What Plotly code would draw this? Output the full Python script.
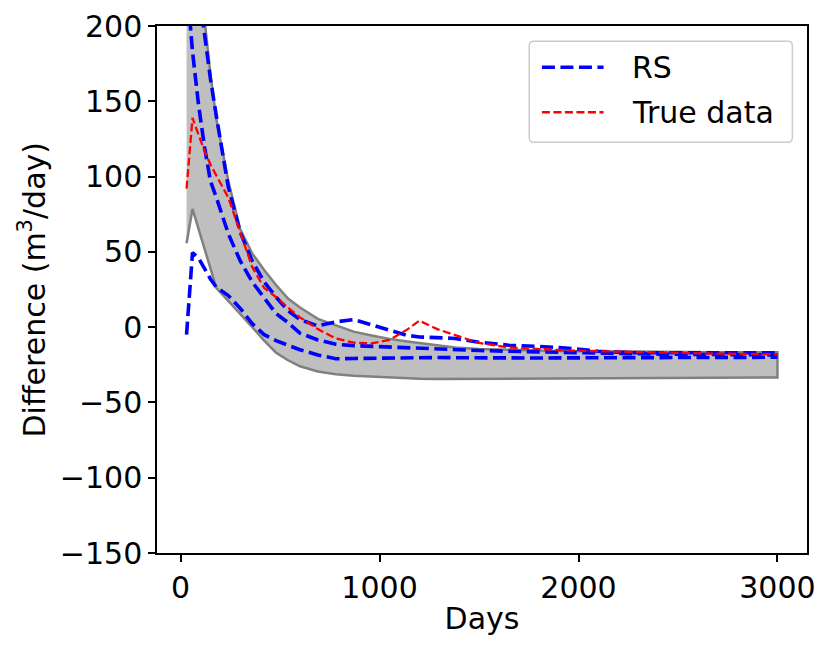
import plotly.graph_objects as go

# time axis (days) shared by all series
days = [30, 60, 90, 120, 150, 180, 240, 300, 360, 420, 480, 540, 600, 690, 780,
        870, 960, 1050, 1140, 1200, 1290, 1380, 1500, 1650, 1800, 1950, 2100,
        2250, 2400, 2550, 2700, 2850, 3000]

# envelope of the ensemble (grey band)
band_upper = [360, 300, 250, 205, 168, 138, 97, 65, 49, 38, 28, 19, 13, 5.5, 1,
              -3, -5.5, -7.8, -9.5, -10.6, -12, -13.5, -14.5, -15, -15.5, -16, -16,
              -16.3, -16.5, -16.5, -16.6, -16.6, -16.6]
band_lower = [55.7, 78.5, 65, 52, 39, 26, 17.5, 9, 0, -9, -17, -22, -26, -29.5, -31.3,
              -32.3, -33, -33.5, -34, -34.3, -34.5, -34.5, -34.5, -34.5, -34.5, -34.3, -34.1,
              -34, -33.9, -33.8, -33.6, -33.5, -33.4]

# RS realisations
rs_high = [330, 260, 225, 195, 165, 140, 93, 63, 44, 30, 20, 11, 5, 0.8, 3.5,
           5, 1.5, -2.5, -5.5, -6.5, -7.3, -7.5, -10, -12, -12.8, -14, -16,
           -17, -17, -17, -17, -17, -17]
rs_mid = [230, 183, 148, 120, 97, 86, 62, 44, 30, 19, 9, 3, -4, -8.5, -11.3,
          -12.3, -12.8, -13.3, -13.8, -14.2, -14.6, -15, -15.5, -16, -16.5, -17, -17.3,
          -17.6, -17.9, -18.1, -18.3, -18.4, -18.5]
rs_low = [-5, 49.5, 46, 39, 32, 26.5, 21, 12.5, 2.3, -5, -9, -12, -15, -18.5, -21,
          -20.8, -20.6, -20.5, -20.3, -20, -20.2, -20.3, -20.5, -20.5, -20.5, -20.4, -20.3,
          -20.3, -20.2, -20.2, -20.1, -20, -20]

# observed
true_data = [92, 139, 128, 117, 108, 101, 86, 63, 40, 26, 20, 13, 6.5, -1.3, -7.5,
             -10.3, -10.8, -8.5, -1.5, 4.3, -1.3, -5.3, -10.5, -13.5, -14.5, -15.5, -16,
             -16.5, -17, -17.3, -17.6, -17.8, -18]

legend_labels = ["RS", "True data"]

FONT = "DejaVu Sans"
FS = 30
RS_LINE = dict(color="#0000ff", width=3.6, dash="13px,5.5px")
TRUE_LINE = dict(color="#ff0000", width=2.3, dash="8px,3.5px")

fig = go.Figure()

# grey band as a closed polygon
fig.add_trace(go.Scatter(
    x=days + days[::-1],
    y=band_upper + band_lower[::-1],
    mode="lines",
    fill="toself",
    fillcolor="#bfbfbf",
    line=dict(color="#808080", width=2.5),
    showlegend=False,
    hoverinfo="skip",
))

for rs in [rs_high, rs_mid, rs_low]:
    fig.add_trace(go.Scatter(x=days, y=rs, mode="lines", name="RS",
                             line=RS_LINE, showlegend=False))

fig.add_trace(go.Scatter(x=days, y=true_data, mode="lines", name="True data",
                         line=TRUE_LINE, showlegend=False))

# matplotlib-like legend box drawn by hand (longer line samples than plotly's)
bx0, bx1, by0, by1 = 0.5727, 0.9775, 0.7794, 0.971
rx, ry = 0.007, 0.009
box_path = (f"M{bx0 + rx},{by0} L{bx1 - rx},{by0} Q{bx1},{by0} {bx1},{by0 + ry} "
            f"L{bx1},{by1 - ry} Q{bx1},{by1} {bx1 - rx},{by1} "
            f"L{bx0 + rx},{by1} Q{bx0},{by1} {bx0},{by1 - ry} "
            f"L{bx0},{by0 + ry} Q{bx0},{by0} {bx0 + rx},{by0} Z")
shapes = [dict(type="path", path=box_path, xref="paper", yref="paper",
               fillcolor="white", line=dict(color="#cccccc", width=1.5), layer="above")]
annotations = []
for label, style, ly in zip(legend_labels, [RS_LINE, TRUE_LINE], [0.9217, 0.8363]):
    shapes.append(dict(type="line", xref="paper", yref="paper",
                       x0=0.5922, x1=0.687, y0=ly, y1=ly, line=style, layer="above"))
    annotations.append(dict(text=label, xref="paper", yref="paper", x=0.7281, y=ly,
                            xanchor="left", yanchor="middle", showarrow=False,
                            font=dict(family=FONT, size=FS, color="black")))

annotations.append(dict(
    text="Difference (m<sup>3</sup>/day)",
    xref="paper", yref="paper",
    x=(25 - 149) / 650, y=0.5,
    xanchor="center", yanchor="middle",
    textangle=-90, showarrow=False,
    font=dict(family=FONT, size=FS, color="black"),
))

axis_style = dict(
    showline=True, linecolor="black", linewidth=1.5, mirror=True,
    ticks="outside", ticklen=7, tickwidth=1.5, tickcolor="black",
    showgrid=False, zeroline=False, automargin=False,
    tickfont=dict(family=FONT, size=FS, color="black"),
)

# page body has an 8px margin, so the figure is drawn 8px in and 8px down
fig.update_layout(
    width=823, height=641,
    margin=dict(l=149, r=24, t=18, b=96),
    paper_bgcolor="white", plot_bgcolor="white",
    font=dict(family=FONT, color="black"),
    showlegend=False,
    xaxis=dict(
        range=[-118.5, 3148.5],
        tickvals=[0, 1000, 2000, 3000],
        title=dict(text="Days", font=dict(family=FONT, size=FS), standoff=4),
        **axis_style,
    ),
    yaxis=dict(
        range=[-150, 200],
        tickvals=[-150, -100, -50, 0, 50, 100, 150, 200],
        **axis_style,
    ),
    shapes=shapes,
    annotations=annotations,
)

fig.write_html("out.html")
